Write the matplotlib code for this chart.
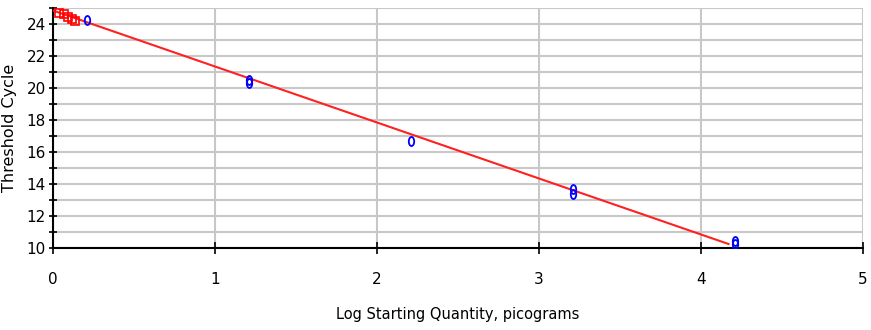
import matplotlib
matplotlib.use("Agg")
import matplotlib.pyplot as plt
from matplotlib.path import Path
from matplotlib.transforms import Affine2D
from matplotlib.ticker import MultipleLocator

# standards (blue) and unknowns (red) of the qPCR standard curve
std_log_qty = [0.21, 1.21, 1.21, 2.21, 3.21, 3.21, 4.21, 4.21]
std_ct = [24.25, 20.5, 20.3, 16.7, 13.7, 13.4, 10.42, 10.28]
unk_log_qty = [0.04, 0.07, 0.095, 0.12, 0.135]
unk_ct = [24.72, 24.6, 24.45, 24.3, 24.2]
fit_x = [0.0, 4.17]
fit_y = [24.85, 10.25]

plt.rcParams["font.family"] = ["DejaVu Sans"]

fig = plt.figure(figsize=(8.71, 3.30), dpi=100)
ax = fig.add_axes([0.0608, 0.2485, 0.930, 0.727])

# tall narrow ellipse for the standards
oval = Path.unit_circle().transformed(Affine2D().scale(0.6, 1.0))

ax.plot(fit_x, fit_y, color="#ff2020", lw=1.5, zorder=3)
ax.plot(unk_log_qty, unk_ct, ls="none", marker="s", ms=5.5, mfc="none",
        mec="#ff0000", mew=1.2, zorder=4)
ax.plot(std_log_qty, std_ct, ls="none", marker=oval, ms=6.5, mfc="none",
        mec="#0000ff", mew=1.3, zorder=5)

ax.set_xlim(0, 5)
ax.set_ylim(10, 25)
ax.xaxis.set_major_locator(MultipleLocator(1))
ax.yaxis.set_major_locator(MultipleLocator(2))
ax.yaxis.set_minor_locator(MultipleLocator(1))

ax.grid(True, which="both", color="#c8c8c8", lw=1.5, zorder=0)
ax.set_axisbelow(True)

for s in ("top", "right"):
    ax.spines[s].set_visible(False)
for s in ("left", "bottom"):
    ax.spines[s].set_linewidth(1.5)
    ax.spines[s].set_color("black")

ax.tick_params(axis="x", which="major", direction="inout", length=8, width=1.2,
               labelsize=11, pad=13)
ax.tick_params(axis="y", which="both", direction="inout", length=6, width=1.2,
               labelsize=11, pad=2)

ax.set_xlabel("Log Starting Quantity, picograms", fontsize=10.5, labelpad=15)
ax.set_ylabel("Threshold Cycle", fontsize=11.5)
ax.yaxis.set_label_coords(-0.045, 0.5)

fig.savefig("out.png", dpi=100)
